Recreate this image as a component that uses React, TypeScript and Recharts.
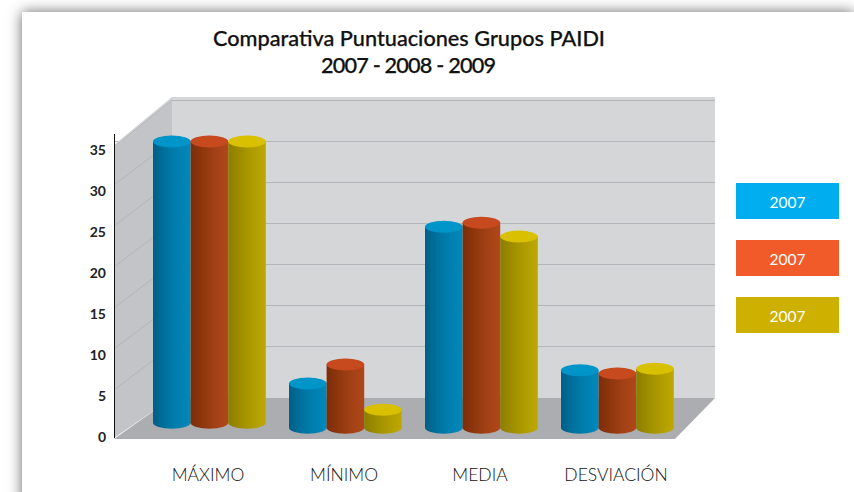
import React from 'react';
import { Bar, BarChart, CartesianGrid, Legend, XAxis, YAxis } from 'recharts';

const categories = ['MÁXIMO', 'MÍNIMO', 'MEDIA', 'DESVIACIÓN'];
const seriesA = [35, 5.5, 24.6, 7.1];
const seriesB = [35, 7.8, 25.1, 6.7];
const seriesC = [35, 2.3, 23.4, 7.3];
// the cylinders don't stand on zero, the first group sits further back on the floor
const bases = [0.7, 0.1, 0.1, 0.1];
const yTicks = [0, 5, 10, 15, 20, 25, 30, 35];
const gridValues = [10, 15, 20, 25, 30, 35];
const legendNames = ['2007', '2007', '2007'];
const legendColors = ['#00aeef', '#f15a29', '#cdb000'];

const FONT = 'Lato, sans-serif';
const WIDTH = 854;
const HEIGHT = 492;

const data = categories.map((name, i) => ({
    name,
    a: [bases[i], seriesA[i]],
    b: [bases[i], seriesB[i]],
    c: [bases[i], seriesC[i]],
}));

const palettes = [
    { id: 'cylBlue', top: '#0095c8', stops: ['#005f86', '#0072a0', '#0080b0', '#0088ba'] },
    { id: 'cylRed', top: '#c74a1f', stops: ['#7c2d07', '#90370e', '#a34115', '#b0471a'] },
    { id: 'cylGold', top: '#d9c000', stops: ['#8c7d00', '#9f8e00', '#b09d00', '#bea900'] },
];

function cylinder(p: { id: string; top: string }) {
    return (props: any) => {
        const { x, y, width, height } = props;
        const rx = width / 2;
        const ry = 6;
        return (
            <g>
                <ellipse cx={x + rx} cy={y + height} rx={rx} ry={ry} fill={`url(#${p.id})`} />
                <rect x={x} y={y} width={width} height={height} fill={`url(#${p.id})`} />
                <ellipse cx={x + rx} cy={y} rx={rx} ry={ry} fill={p.top} />
            </g>
        );
    };
}

function YTick({ x, y, payload }: any) {
    return (
        <text x={x} y={y + 13.5} textAnchor="end" fontFamily={FONT} fontWeight={700} fontSize={14} fill="#222">
            {payload.value}
        </text>
    );
}

function XTick({ x, payload }: any) {
    return (
        <text x={x - 1} y={481} textAnchor="middle" fontFamily={FONT} fontWeight={300} fontSize={17.5} fill="#111">
            {payload.value}
        </text>
    );
}

function LegendBoxes({ payload }: any) {
    return (
        <div>
            {(payload || []).map((entry: any, i: number) => (
                <div
                    key={i}
                    style={{
                        width: 103,
                        height: 36,
                        marginBottom: 21,
                        background: legendColors[i],
                        color: '#fff',
                        fontFamily: FONT,
                        fontSize: 15.5,
                        lineHeight: '38px',
                        textAlign: 'center',
                    }}
                >
                    {entry.value}
                </div>
            ))}
        </div>
    );
}

export default function App() {
    return (
        <div style={{ position: 'absolute', left: 0, top: 0, width: WIDTH, height: HEIGHT, overflow: 'hidden', background: '#fff' }}>
            <div style={{ position: 'absolute', left: 22, top: 12, width: 832, height: 520, background: '#fff', boxShadow: '0 0 13px rgba(0,0,0,0.6)' }} />
            <div style={{ position: 'absolute', left: 172, top: 97, width: 543, height: 301, background: '#d5d6d8' }} />
            <div style={{ position: 'absolute', left: 0, top: 0 }}>
                <BarChart
                    width={WIDTH}
                    height={HEIGHT}
                    data={data}
                    barSize={37.6}
                    barGap={0}
                    margin={{ top: 141.5, right: 139, bottom: 33.5, left: 74 }}
                >
                    <defs>
                        {palettes.map((p) => (
                            <linearGradient key={p.id} id={p.id} x1="0" y1="0" x2="1" y2="0">
                                {p.stops.map((c, i) => (
                                    <stop key={i} offset={i / (p.stops.length - 1)} stopColor={c} />
                                ))}
                            </linearGradient>
                        ))}
                    </defs>
                    <CartesianGrid vertical={false} horizontalValues={gridValues} stroke="#b4b5b9" />
                    <XAxis
                        dataKey="name"
                        axisLine={false}
                        tickLine={false}
                        height={30}
                        padding={{ left: 27, right: 30 }}
                        interval={0}
                        tick={<XTick />}
                    />
                    <YAxis
                        domain={[0, 35]}
                        ticks={yTicks}
                        axisLine={false}
                        tickLine={false}
                        width={40}
                        interval={0}
                        tick={<YTick />}
                    />
                    <Legend
                        layout="vertical"
                        align="center"
                        verticalAlign="middle"
                        wrapperStyle={{ left: 736, top: 183, width: 103, height: 150 }}
                        content={<LegendBoxes />}
                    />
                    <polygon points="114,146 172,98 172,398 114,438" fill="#c3c4c7" />
                    <polygon points="114,145 172,97 172,100 114,148" fill="#cfd0d2" />
                    <line x1={114} y1={147} x2={172} y2={100} stroke="#b4b5b9" />
                    <line x1={172} y1={100.5} x2={715} y2={100.5} stroke="#b4b5b9" />
                    <line x1={172} y1={141} x2={114} y2={185} stroke="#b4b5b9" />
                    <line x1={172} y1={182} x2={114} y2={226} stroke="#b4b5b9" />
                    <line x1={172} y1={223} x2={114} y2={267} stroke="#b4b5b9" />
                    <line x1={172} y1={264} x2={114} y2={308} stroke="#b4b5b9" />
                    <line x1={172} y1={305} x2={114} y2={349} stroke="#b4b5b9" />
                    <line x1={172} y1={346} x2={114} y2={390} stroke="#b4b5b9" />
                    <polygon points="114,439 172,398 715,398 675,439" fill="#acadb0" />
                    <line x1={114.5} y1={134} x2={114.5} y2={438} stroke="#111" />
                    <text x={409} y={46} textAnchor="middle" fontFamily={FONT} fontWeight={500} fontSize={21.7} fill="#111" stroke="#111" strokeWidth={0.25}>
                        Comparativa Puntuaciones Grupos PAIDI
                    </text>
                    <text x={408.5} y={73} textAnchor="middle" fontFamily={FONT} fontWeight={500} fontSize={21.7} fill="#111" stroke="#111" strokeWidth={0.25} textLength={175}>
                        2007 - 2008 - 2009
                    </text>
                    <Bar dataKey="a" name={legendNames[0]} fill={legendColors[0]} shape={cylinder(palettes[0])} isAnimationActive={false} />
                    <Bar dataKey="b" name={legendNames[1]} fill={legendColors[1]} shape={cylinder(palettes[1])} isAnimationActive={false} />
                    <Bar dataKey="c" name={legendNames[2]} fill={legendColors[2]} shape={cylinder(palettes[2])} isAnimationActive={false} />
                </BarChart>
            </div>
        </div>
    );
}
